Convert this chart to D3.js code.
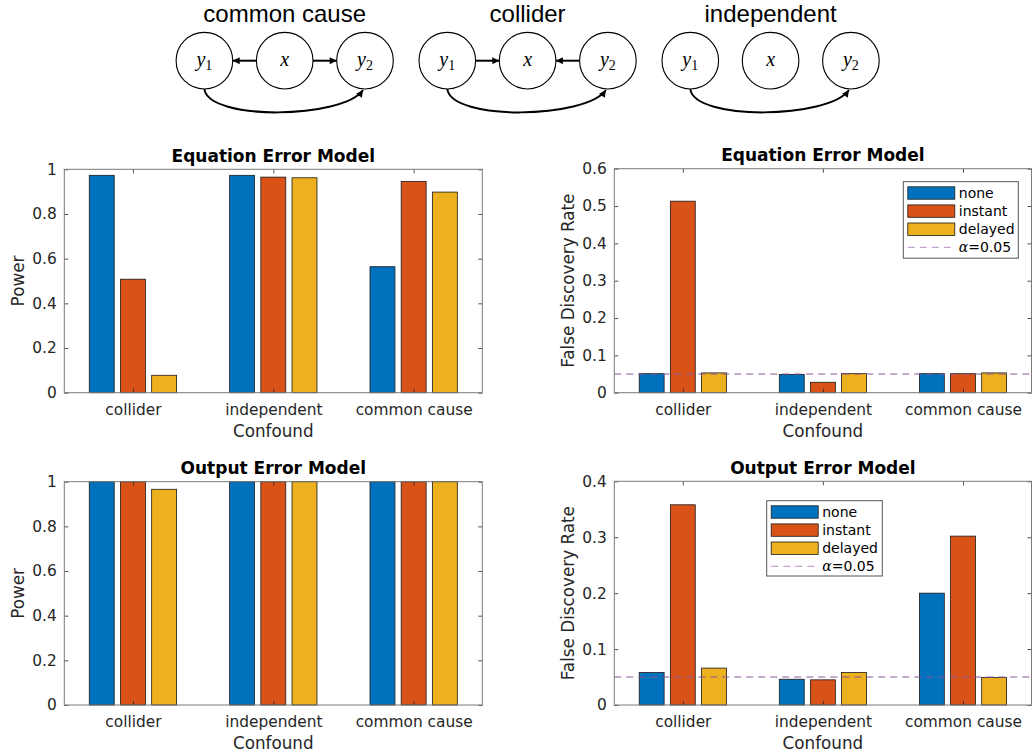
<!DOCTYPE html>
<html>
<head>
<meta charset="utf-8">
<script src="https://cdn.jsdelivr.net/npm/d3@7"></script>
<style>
  html, body { margin: 0; padding: 0; background: #fff; }
  svg { display: block; }
  .tick text { font-family: "DejaVu Sans", sans-serif; font-size: 15.4px; fill: #262626; }
  .tick line { stroke: #262626; stroke-width: 0.8; }
</style>
</head>
<body>
<svg id="fig" width="1032" height="753"></svg>
<script>
// ---- data ----
const categories = ['collider', 'independent', 'common cause'];
const seriesNames = ['none', 'instant', 'delayed'];
const seriesColors = ['#0072BD', '#D95319', '#EDB120'];

// rows: none, instant, delayed ; columns follow categories
const eePower = [
  [0.973, 0.973, 0.564],
  [0.508, 0.965, 0.946],
  [0.078, 0.962, 0.898]
];
const eeFdr = [
  [0.051, 0.049, 0.051],
  [0.513, 0.028, 0.051],
  [0.053, 0.051, 0.053]
];
const oePower = [
  [1.000, 1.000, 1.000],
  [1.000, 1.000, 1.000],
  [0.966, 1.000, 1.000]
];
const oeFdr = [
  [0.058, 0.046, 0.200],
  [0.358, 0.045, 0.302],
  [0.066, 0.058, 0.049]
];
const alphaLevel = 0.05;

const powerTicks = [0, 0.2, 0.4, 0.6, 0.8, 1];
const eeFdrTicks = [0, 0.1, 0.2, 0.3, 0.4, 0.5, 0.6];
const oeFdrTicks = [0, 0.1, 0.2, 0.3, 0.4];

// diagram definitions
const diagrams = [
  { title: 'common cause', cx: 284.7, edges: [['x', 'y1'], ['x', 'y2']] },
  { title: 'collider',     cx: 527.6, edges: [['y1', 'x'], ['y2', 'x']] },
  { title: 'independent',  cx: 770.6, edges: [] }
];

const svg = d3.select('#fig');
const FONT = '"DejaVu Sans", sans-serif';

// ---- arrow marker ----
const defs = svg.append('defs');
defs.append('marker')
  .attr('id', 'head')
  .attr('markerUnits', 'userSpaceOnUse')
  .attr('viewBox', '0 0 10 10')
  .attr('refX', 10).attr('refY', 5)
  .attr('markerWidth', 8).attr('markerHeight', 7)
  .attr('orient', 'auto')
  .append('path')
  .attr('d', 'M0,0 L10,5 L0,10 Z')
  .attr('fill', '#000');

// ---- causal diagrams ----
const R = 28.3, CY = 60.7, DX = 80.3;
const nodeOff = { y1: -DX, x: 0, y2: DX };

diagrams.forEach(dg => {
  const g = svg.append('g').attr('class', 'diagram');

  g.append('text')
    .attr('x', dg.cx).attr('y', 22)
    .attr('text-anchor', 'middle')
    .attr('font-family', '"Liberation Sans", Arial, sans-serif')
    .attr('font-size', 24)
    .attr('fill', '#000')
    .text(dg.title);

  Object.entries(nodeOff).forEach(([id, off]) => {
    const nx = dg.cx + off;
    g.append('circle')
      .attr('cx', nx).attr('cy', CY).attr('r', R)
      .attr('fill', '#fff').attr('stroke', '#000').attr('stroke-width', 1.1);
    const t = g.append('text')
      .attr('x', nx).attr('y', CY + 5)
      .attr('text-anchor', 'middle')
      .attr('font-family', '"Liberation Serif", serif')
      .attr('fill', '#000');
    t.append('tspan').attr('font-style', 'italic').attr('font-size', 20).text(id[0]);
    if (id.length > 1) {
      t.append('tspan').attr('font-size', 14).attr('dy', 4).text(id.slice(1));
    }
  });

  dg.edges.forEach(([from, to]) => {
    const fx = dg.cx + nodeOff[from], tx = dg.cx + nodeOff[to];
    const dir = Math.sign(tx - fx);
    g.append('line')
      .attr('x1', fx + dir * R).attr('y1', CY)
      .attr('x2', tx - dir * R).attr('y2', CY)
      .attr('stroke', '#000').attr('stroke-width', 2)
      .attr('marker-end', 'url(#head)');
  });

  // curved y1 -> y2 link
  const ax = dg.cx - DX, bx = dg.cx + DX, by = CY + R;
  g.append('path')
    .attr('d', `M${ax},${by} C${ax + 4},${by + 32} ${bx - 22},${by + 30} ${bx - 2},${by + 1}`)
    .attr('fill', 'none').attr('stroke', '#000').attr('stroke-width', 2)
    .attr('marker-end', 'url(#head)');
});

// ---- bar panels ----
const panels = [
  { title: 'Equation Error Model', ylabel: 'Power', data: eePower, ymax: 1, ticks: powerTicks,
    box: [64.3, 169.3, 482.3, 392.7], labelX: 23.5 },
  { title: 'Equation Error Model', ylabel: 'False Discovery Rate', data: eeFdr, ymax: 0.6, ticks: eeFdrTicks,
    box: [614.3, 168.7, 1031.5, 392.7], labelX: 573.5, legend: [903.3, 181.7, 115, 76.5], alpha: true },
  { title: 'Output Error Model', ylabel: 'Power', data: oePower, ymax: 1, ticks: powerTicks,
    box: [64.3, 481.7, 482.3, 705], labelX: 23.5 },
  { title: 'Output Error Model', ylabel: 'False Discovery Rate', data: oeFdr, ymax: 0.4, ticks: oeFdrTicks,
    box: [614.3, 481.3, 1031.5, 705], labelX: 573.5, legend: [766.7, 500.7, 115.6, 75.3], alpha: true }
];

const groupStep = 2 / 9;            // MATLAB grouped bar spacing
const barW = 0.8 * groupStep;

function fmtTick(d) {
  return d === 0 ? '0' : d === 1 ? '1' : String(d);
}

panels.forEach(p => {
  const [x0, y0, x1, y1] = p.box;
  const x = d3.scaleLinear().domain([0.511, 3.489]).range([x0, x1]);
  const y = d3.scaleLinear().domain([0, p.ymax]).range([y1, y0]);
  const g = svg.append('g').attr('class', 'panel');

  g.append('rect')
    .attr('x', x0).attr('y', y0).attr('width', x1 - x0).attr('height', y1 - y0)
    .attr('fill', '#fff');

  // bars
  p.data.forEach((vals, s) => {
    g.selectAll(null)
      .data(vals)
      .enter().append('rect')
      .attr('x', (v, i) => x(i + 1 + (s - 1) * groupStep - barW / 2))
      .attr('width', x(barW) - x(0))
      .attr('y', v => y(v))
      .attr('height', v => y(0) - y(v))
      .attr('fill', seriesColors[s])
      .attr('stroke', '#1a1a1a')
      .attr('stroke-width', 0.8);
  });

  // alpha reference line
  if (p.alpha) {
    g.append('line')
      .attr('x1', x0).attr('x2', x1)
      .attr('y1', y(alphaLevel)).attr('y2', y(alphaLevel))
      .attr('stroke', '#8a5599').attr('stroke-width', 1)
      .attr('stroke-dasharray', '7,5');
  }

  // axes
  g.append('g').attr('transform', `translate(${x0},0)`)
    .call(d3.axisLeft(y).tickValues(p.ticks).tickFormat(fmtTick).tickSize(-4).tickPadding(7.5))
    .call(a => a.select('.domain').remove());
  g.append('g').attr('transform', `translate(${x1},0)`)
    .call(d3.axisRight(y).tickValues(p.ticks).tickFormat('').tickSize(-4))
    .call(a => a.select('.domain').remove());
  g.append('g').attr('transform', `translate(0,${y1})`)
    .call(d3.axisBottom(x).tickValues([1, 2, 3]).tickFormat(d => categories[d - 1]).tickSize(-4).tickPadding(11.3))
    .call(a => a.select('.domain').remove());
  g.append('g').attr('transform', `translate(0,${y0})`)
    .call(d3.axisTop(x).tickValues([1, 2, 3]).tickFormat('').tickSize(-4))
    .call(a => a.select('.domain').remove());

  g.append('rect')
    .attr('x', x0).attr('y', y0).attr('width', x1 - x0).attr('height', y1 - y0)
    .attr('fill', 'none').attr('stroke', '#7a7a7a').attr('stroke-width', 1);

  // title & labels
  g.append('text')
    .attr('x', (x0 + x1) / 2).attr('y', y0 - 7.3)
    .attr('text-anchor', 'middle')
    .attr('font-family', FONT).attr('font-size', 17).attr('font-weight', 'bold')
    .attr('fill', '#000')
    .text(p.title);
  g.append('text')
    .attr('x', (x0 + x1) / 2).attr('y', y1 + 43.8)
    .attr('text-anchor', 'middle')
    .attr('font-family', FONT).attr('font-size', 16.8)
    .attr('fill', '#262626')
    .text('Confound');
  g.append('text')
    .attr('transform', `translate(${p.labelX},${(y0 + y1) / 2}) rotate(-90)`)
    .attr('text-anchor', 'middle')
    .attr('font-family', FONT).attr('font-size', 16.8)
    .attr('fill', '#262626')
    .text(p.ylabel);

  // legend
  if (p.legend) {
    const [lx, ly, lw, lh] = p.legend;
    const lg = g.append('g').attr('class', 'legend');
    lg.append('rect')
      .attr('x', lx).attr('y', ly).attr('width', lw).attr('height', lh)
      .attr('fill', '#fff').attr('stroke', '#555').attr('stroke-width', 1);
    const rowY = i => ly + 11.3 + i * 18.1;
    seriesNames.forEach((name, i) => {
      lg.append('rect')
        .attr('x', lx + 4.5).attr('y', rowY(i) - 6.2)
        .attr('width', 47).attr('height', 12.4)
        .attr('fill', seriesColors[i]).attr('stroke', '#1a1a1a').attr('stroke-width', 0.8);
      lg.append('text')
        .attr('x', lx + 55.5).attr('y', rowY(i)).attr('dy', '0.36em')
        .attr('font-family', FONT).attr('font-size', 14).attr('fill', '#000')
        .text(name);
    });
    lg.append('line')
      .attr('x1', lx + 4.5).attr('x2', lx + 51.5)
      .attr('y1', rowY(3)).attr('y2', rowY(3))
      .attr('stroke', '#b88cc6').attr('stroke-width', 1)
      .attr('stroke-dasharray', '7,5');
    const at = lg.append('text')
      .attr('x', lx + 55.5).attr('y', rowY(3)).attr('dy', '0.36em')
      .attr('font-family', FONT).attr('font-size', 14).attr('fill', '#000');
    at.append('tspan').attr('font-family', '"DejaVu Serif", serif').attr('font-style', 'italic').text('α');
    at.append('tspan').text('=' + alphaLevel);
  }
});
</script>
</body>
</html>
